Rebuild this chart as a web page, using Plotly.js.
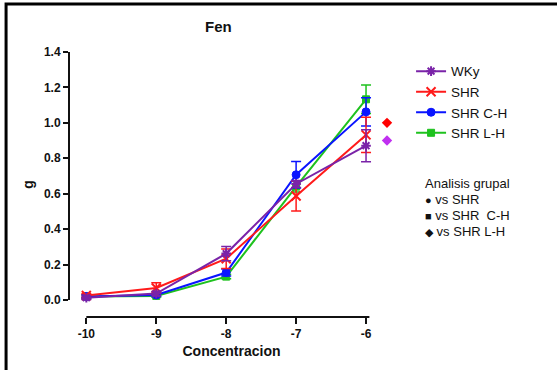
<!DOCTYPE html>
<html>
<head>
<meta charset="utf-8">
<script src="https://cdn.plot.ly/plotly-3.0.1.min.js"></script>
<style>html,body{margin:0;padding:0;background:#fff;}#chart{width:557px;height:370px;}</style>
</head>
<body>
<div id="chart"></div>
<script>
const concentracion = [-10, -9, -8, -7, -6];
const xTickLabels = ["-10", "-9", "-8", "-7", "-6"];
const yTickVals = [0, 0.2, 0.4, 0.6, 0.8, 1.0, 1.2, 1.4];
const yTickLabels = ["0.0", "0.2", "0.4", "0.6", "0.8", "1.0", "1.2", "1.4"];

const wkyMean = [0.013, 0.036, 0.262, 0.655, 0.871];
const wkyErr  = [0.010, 0.012, 0.040, 0.020, 0.090];
const shrMean = [0.025, 0.068, 0.233, 0.587, 0.932];
const shrErr  = [0.010, 0.030, 0.055, 0.085, 0.100];
const chMean  = [0.020, 0.028, 0.155, 0.707, 1.062];
const chErr   = [0.010, 0.008, 0.020, 0.075, 0.080];
const lhMean  = [0.020, 0.023, 0.132, 0.640, 1.133];
const lhErr   = [0.008, 0.006, 0.012, 0.030, 0.080];

const sigX = [-5.70, -5.70];
const sigY = [1.0, 0.9];
const sigColors = ["#ff0000", "#c030f0"];

const FONT = "Arial, 'Liberation Sans', sans-serif";

function series(name, y, err, color, symbol, size, lw, rank) {
  return {
    type: "scatter", mode: "lines+markers", name: name, x: concentracion, y: y,
    line: {color: color, width: 2},
    marker: {color: color, symbol: symbol, size: size, line: {color: color, width: lw}},
    error_y: {type: "data", array: err, visible: true, color: color, thickness: 1.5, width: 5},
    legendrank: rank, cliponaxis: false
  };
}

const data = [
  series("SHR L-H", lhMean, lhErr, "#1ec21e", "square", 7, 1, 4),
  series("SHR C-H", chMean, chErr, "#0a14ff", "circle", 8, 1, 3),
  series("SHR", shrMean, shrErr, "#ff1a1a", "x-thin-open", 9, 2, 2),
  series("WKy", wkyMean, wkyErr, "#7a23a8", "asterisk-open", 8, 2, 1),
  {type: "scatter", mode: "markers", x: sigX, y: sigY, showlegend: false,
   marker: {color: sigColors, symbol: "diamond", size: 8}, cliponaxis: false}
];

// plot area: left 69px, 70 px per unit, range to -5.6
const L = 69, PW = 4.648 * 70, T = 52, PH = 265;
const px = (p) => (p - L) / PW;
const py = (p) => (T + PH - p) / PH;

const annFont = {family: FONT, size: 13, color: "#111"};
function ann(text, yPix) {
  return {text: text, xref: "paper", yref: "paper", x: px(423), y: py(yPix), xanchor: "left", yanchor: "middle", showarrow: false, font: annFont};
}

const layout = {
  width: 557, height: 370,
  margin: {l: L, r: 557 - L - PW, t: T, b: 370 - T - PH},
  paper_bgcolor: "#fff", plot_bgcolor: "#fff",
  font: {family: FONT, color: "#111"},
  title: {text: "<b>Fen</b>", font: {family: FONT, size: 15, color: "#111"},
          x: 0.392, xref: "container", xanchor: "center", y: 1 - 27/370, yref: "container", yanchor: "middle"},
  xaxis: {
    range: [-10.248, -5.6], tickvals: concentracion, ticktext: xTickLabels,
    showgrid: false, zeroline: false, showline: false,
    ticks: "outside", ticklen: 6, tickwidth: 2, tickcolor: "#111",
    tickfont: {family: FONT, size: 12, color: "#111", weight: "bold"},
    title: {text: "<b>Concentracion</b>", font: {family: FONT, size: 14, color: "#111"}, standoff: 5}
  },
  yaxis: {
    range: [-0.096, 1.4], tickvals: yTickVals, ticktext: yTickLabels,
    showgrid: false, zeroline: false, showline: false,
    ticks: "outside", ticklen: 5, tickwidth: 2, tickcolor: "#111",
    tickfont: {family: FONT, size: 12, color: "#111", weight: "bold"},
    title: {text: "<b>g</b>", font: {family: FONT, size: 14, color: "#111"}, standoff: 7}
  },
  legend: {
    xref: "container", yref: "container", x: 0.738, y: 0.849, xanchor: "left", yanchor: "top",
    font: {family: FONT, size: 13.5, color: "#111"}, bgcolor: "rgba(0,0,0,0)", tracegroupgap: 0
  },
  shapes: [
    {type: "line", xref: "paper", yref: "y", x0: 0, x1: 0, y0: 0, y1: 1.4, line: {color: "#111", width: 2}},
    {type: "line", xref: "x", yref: "paper", x0: -10, x1: -5.952, y0: 0, y1: 0, line: {color: "#111", width: 2}},
    {type: "rect", xref: "paper", yref: "paper", x0: px(6), x1: px(562), y0: py(374), y1: py(4), line: {color: "#000", width: 3}, layer: "below"}
  ],
  annotations: [
    ann("Analisis grupal", 183),
    ann("<span style='font-size:11px'>●</span> vs SHR", 199),
    ann("<span style='font-size:11px'>■</span> vs SHR  C-H", 215),
    ann("<span style='font-size:11px'>◆</span> vs SHR L-H", 231)
  ],
  showlegend: true
};

Plotly.newPlot("chart", data, layout, {displayModeBar: false, staticPlot: true});
</script>
</body>
</html>
